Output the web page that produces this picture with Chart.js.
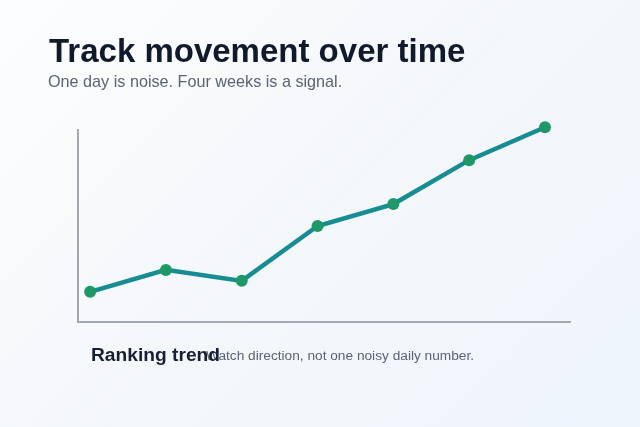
<!DOCTYPE html>
<html>
<head>
<meta charset="utf-8">
<script src="https://cdn.jsdelivr.net/npm/chart.js@4.4.1/dist/chart.umd.min.js"></script>
<style>
  html, body { margin: 0; padding: 0; width: 640px; height: 427px; overflow: hidden; }
  body { background: linear-gradient(135deg, #fcfdfe 0%, #f4f7fa 50%, #eef5fc 100%); font-family: "Liberation Sans", Arial, sans-serif; position: relative; }
  #wrap { position: absolute; left: 0; top: 0; width: 640px; height: 427px; }
  .t { position: absolute; white-space: nowrap; }
  #title { left: 49px; top: 32px; font-size: 33px; font-weight: bold; color: #111a2b; }
  #sub { left: 48px; top: 72px; font-size: 16.2px; color: #5b6472; }
  #cap1 { left: 91px; top: 344px; font-size: 19.2px; font-weight: bold; color: #172033; z-index: 2; }
  #cap2 { left: 206px; top: 348px; font-size: 13.7px; color: #5b6472; z-index: 1; }
</style>
</head>
<body>
<div id="wrap"><canvas id="c" width="640" height="427"></canvas></div>
<div class="t" id="title">Track movement over time</div>
<div class="t" id="sub">One day is noise. Four weeks is a signal.</div>
<div class="t" id="cap2">Watch direction, not one noisy daily number.</div>
<div class="t" id="cap1">Ranking trend</div>
<script>
const categories = ["Day 1", "Day 5", "Day 10", "Day 15", "Day 20", "Day 25", "Day 28"];
const rankingScore = [12, 16, 14, 24, 28, 36, 42];
const yMin = 6.5;
const yMax = 41.5;
const xMin = -0.16;
const xMax = 6.33;

const points = categories.map((c, i) => ({ x: i, y: rankingScore[i] }));

new Chart(document.getElementById('c'), {
  type: 'line',
  data: {
    labels: categories,
    datasets: [{
      label: 'Ranking trend',
      data: points,
      borderColor: '#178c92',
      borderWidth: 4.5,
      pointBackgroundColor: '#1e9866',
      pointBorderColor: '#1e9866',
      pointBorderWidth: 0,
      pointRadius: 6,
      tension: 0,
      clip: false,
      fill: false
    }]
  },
  options: {
    responsive: false,
    animation: false,
    layout: { padding: { left: 78, right: 70, top: 130, bottom: 105 } },
    plugins: { legend: { display: false }, tooltip: { enabled: false }, title: { display: false } },
    scales: {
      x: {
        type: 'linear', min: xMin, max: xMax,
        grid: { display: false, drawTicks: false },
        ticks: { display: false },
        border: { display: true, color: '#a3a8b0', width: 2 }
      },
      y: {
        min: yMin, max: yMax,
        grid: { display: false, drawTicks: false },
        ticks: { display: false },
        border: { display: true, color: '#a3a8b0', width: 2 }
      }
    }
  }
});
</script>
</body>
</html>
